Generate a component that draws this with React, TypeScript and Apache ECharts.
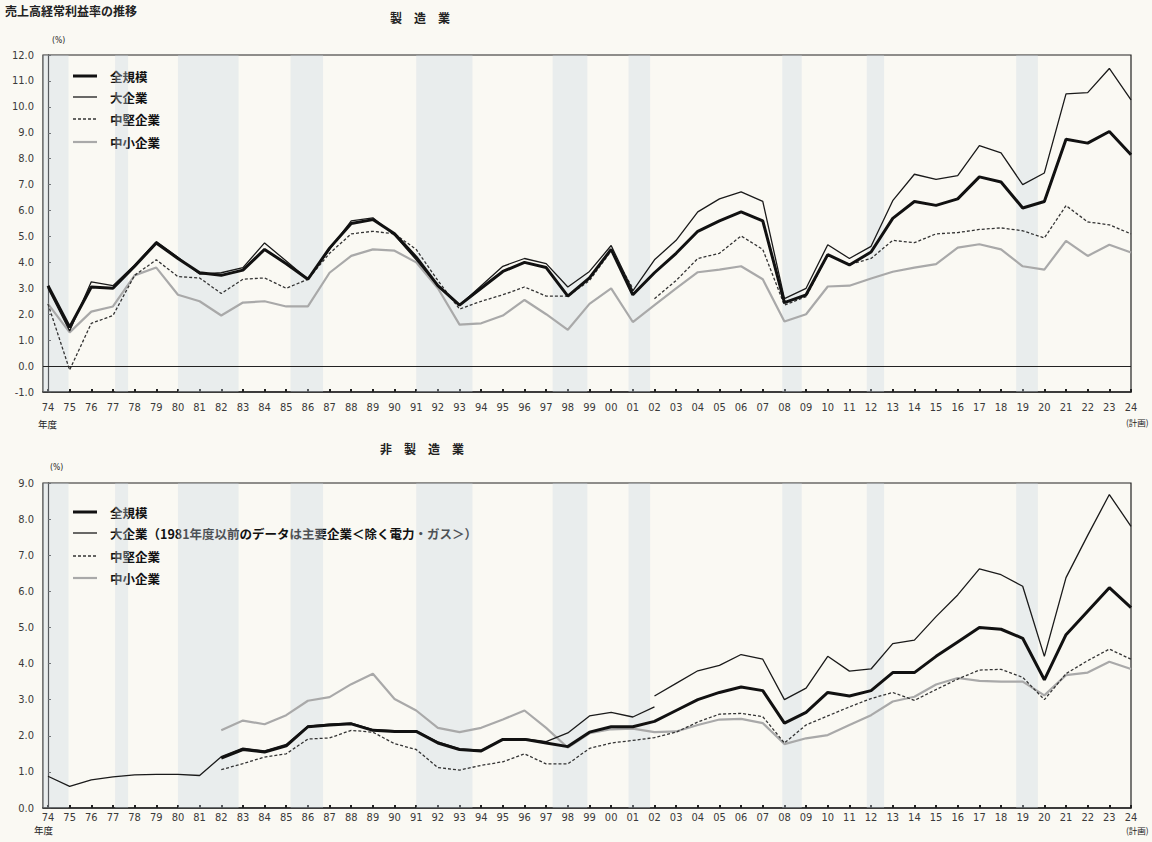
import React, { useEffect, useRef } from 'react';
import * as echarts from 'echarts';

// Fiscal years 1974 .. 2024 (index 0 .. 50)
const yearLabels = [
  '74','75','76','77','78','79','80','81','82','83','84','85','86','87','88','89','90',
  '91','92','93','94','95','96','97','98','99','00','01','02','03','04','05','06','07',
  '08','09','10','11','12','13','14','15','16','17','18','19','20','21','22','23','24',
];

// ---- 製造業 (1974-2024) ----
const mfgAll = [3.1,1.5,3.05,3.0,3.85,4.75,4.15,3.6,3.5,3.7, 4.5,3.95,3.35,4.55,5.5,5.65,5.1,4.2,3.1,2.35, 3.0,3.65,4.0,3.8,2.7,3.4,4.5,2.75,3.6,4.35, 5.2,5.6,5.95,5.6,2.45,2.75,4.3,3.9,4.4,5.7, 6.35,6.2,6.45,7.3,7.1,6.1,6.35,8.75,8.6,9.05, 8.15];
const mfgLarge = [3.0,1.35,3.25,3.1,3.9,4.8,4.2,3.55,3.6,3.8, 4.75,4.05,3.35,4.5,5.6,5.72,5.05,4.1,3.1,2.35, 3.1,3.85,4.15,3.95,3.05,3.65,4.65,2.9,4.1,4.85, 5.95,6.45,6.72,6.35,2.6,3.0,4.68,4.15,4.62,6.38, 7.4,7.2,7.35,8.5,8.22,7.0,7.45,10.5,10.55,11.48, 10.27];
// 中堅企業: 1974-2001 and 2002-2024 (series break)
const mfgMidOld = [2.4,-0.15,1.65,1.95,3.5,4.1,3.45,3.4,2.8,3.35, 3.4,3.0,3.35,4.35,5.1,5.2,5.1,4.5,3.3,2.2, 2.5,2.75,3.05,2.7,2.7,3.3,4.45,3.0];
const mfgMidNew = [2.6,3.3,4.15,4.35,5.02,4.5,2.35,2.68,4.28,3.92, 4.15,4.85,4.76,5.1,5.15,5.27,5.33,5.22,4.94,6.19, 5.56,5.45,5.1];
const mfgSmall = [2.4,1.3,2.1,2.3,3.5,3.8,2.75,2.5,1.95,2.45, 2.5,2.3,2.3,3.6,4.25,4.5,4.45,4.0,3.0,1.6, 1.65,1.95,2.55,2.0,1.4,2.4,3.0,1.7,2.35,3.0, 3.62,3.72,3.85,3.35,1.72,2.0,3.07,3.1,3.38,3.64, 3.8,3.93,4.57,4.7,4.5,3.85,3.72,4.83,4.25,4.68, 4.38];

// ---- 非製造業 ----
// 全規模 1982-2024
const nonAll = [1.38,1.62,1.55,1.72,2.25,2.3,2.33,2.15,2.12,2.12, 1.8,1.62,1.58,1.9,1.9,1.8,1.7,2.1,2.25,2.25, 2.4,2.7,3.0,3.2,3.35,3.25,2.35,2.65,3.2,3.1, 3.25,3.75,3.75,4.2,4.6,5.0,4.95,4.7,3.55,4.8, 5.45,6.1,5.55];
// 大企業 1974-2002 (主要企業 before 1982) and 2002-2024
const nonLargeOld = [0.88,0.6,0.78,0.86,0.92,0.93,0.93,0.9, 1.42,1.66,1.58,1.76,2.27,2.32,2.35,2.17,2.14,2.14, 1.83,1.64,1.6,1.9,1.92,1.84,2.08,2.55,2.65,2.52, 2.8];
const nonLargeNew = [3.1,3.45,3.8,3.95,4.25,4.12,3.0,3.32,4.2,3.79, 3.85,4.55,4.65,5.3,5.9,6.62,6.46,6.14,4.2,6.38, 7.55,8.68,7.8];
// 中堅企業 1982-2024
const nonMid = [1.06,1.23,1.41,1.5,1.91,1.94,2.15,2.1,1.78,1.62, 1.12,1.05,1.18,1.28,1.5,1.22,1.22,1.65,1.8,1.87, 1.95,2.1,2.38,2.6,2.62,2.53,1.8,2.3,2.55,2.8, 3.03,3.2,2.98,3.28,3.57,3.82,3.84,3.62,3.0,3.72, 4.08,4.4,4.12];
// 中小企業 1982-2024
const nonSmall = [2.15,2.42,2.32,2.57,2.97,3.07,3.43,3.72,3.02,2.7, 2.22,2.1,2.22,2.45,2.7,2.22,1.67,2.07,2.18,2.2, 2.1,2.12,2.3,2.45,2.47,2.35,1.77,1.93,2.02,2.3, 2.57,2.95,3.08,3.42,3.6,3.52,3.5,3.5,3.12,3.68, 3.75,4.05,3.85];

// Shaded periods (fiscal-year coordinates)
const recessionBands = [
  [1973.77, 1974.95], [1977.1, 1977.7], [1980.0, 1982.8], [1985.2, 1986.7],
  [1991.0, 1993.6], [1997.3, 1998.9], [2000.8, 2001.8], [2007.9, 2008.8],
  [2011.8, 2012.6], [2018.7, 2019.7],
];

const legendTop = ['全規模', '大企業', '中堅企業', '中小企業'];
const legendBottom = ['全規模', '大企業（1981年度以前のデータは主要企業＜除く電力・ガス＞）', '中堅企業', '中小企業'];

const NUM_FONT = "'Liberation Sans Narrow','DejaVu Sans Condensed','Roboto Condensed',Roboto,sans-serif";
const JP_FONT = "'Noto Sans CJK JP','Noto Sans',sans-serif";

const seg = (vals: number[], startYear: number) => vals.map((v, i) => [startYear - 1974 + i, v]);

const styles: any[] = [
  { color: '#111', width: 3, type: 'solid' },        // 全規模
  { color: '#1a1a1a', width: 1.3, type: 'solid' },   // 大企業
  { color: '#333', width: 1.3, type: [3, 2] },       // 中堅企業
  { color: '#a9a9a9', width: 2.2, type: 'solid' },   // 中小企業
];

function lineSeries(name: string, data: any[], st: any, axis: number, z: number) {
  return {
    type: 'line', name, data, xAxisIndex: axis, yAxisIndex: axis,
    symbol: 'none', showSymbol: false, z, silent: true,
    lineStyle: { color: st.color, width: st.width, type: st.type },
    itemStyle: { color: st.color },
    connectNulls: false,
  };
}

export default function App() {
  const ref = useRef<HTMLDivElement>(null);
  useEffect(() => {
    if (!ref.current) return;
    const chart = echarts.init(ref.current, null, { renderer: 'svg' });
    const ticks = yearLabels.map((_, i) => i);
    const bandData = recessionBands.map(([a, b]) => [{ xAxis: a - 1974 }, { xAxis: b - 1974 }]);

    const xAxisCfg = (gi: number, margin: number) => ({
      type: 'value', gridIndex: gi, min: -0.23, max: 50,
      axisLine: { show: true, onZero: false, lineStyle: { color: '#222', width: 1.6 } },
      axisTick: { show: true, inside: true, length: 3, customValues: ticks, lineStyle: { color: '#222', width: 2 } },
      axisLabel: {
        customValues: ticks, margin, fontSize: 11, color: '#3a3a3a', fontFamily: NUM_FONT,
        formatter: (v: number) => yearLabels[Math.round(v)] ?? '',
      },
      splitLine: { show: false },
    });
    const yAxisCfg = (gi: number, min: number, max: number) => ({
      type: 'value', gridIndex: gi, min, max, interval: 1,
      axisLine: { show: true, lineStyle: { color: '#222', width: 1.2 } },
      axisTick: { show: true, inside: true, length: 3, lineStyle: { color: '#444' } },
      axisLabel: { margin: 9, fontSize: 11, color: '#3a3a3a', fontFamily: NUM_FONT, formatter: (v: number) => v.toFixed(1) },
      splitLine: { show: false },
    });

    const text = (t: string, x: number, y: number, size: number, opts: any = {}) => ({
      type: 'text', x, y, silent: true,
      style: { text: t, fontSize: size, fill: '#222', fontFamily: JP_FONT, textAlign: 'left', textVerticalAlign: 'middle', ...opts },
    });

    const legendGraphic = (names: string[], rows: number[]) => names.flatMap((n, i) => [
      {
        type: 'line', silent: true,
        shape: { x1: 73, y1: rows[i], x2: 97, y2: rows[i] },
        style: {
          stroke: styles[i].color, lineWidth: styles[i].width,
          lineDash: Array.isArray(styles[i].type) ? styles[i].type : null,
        },
      },
      text(n, 110, rows[i], 12.5, { fontWeight: 'bold', fill: '#111' }),
    ]);

    chart.setOption({
      animation: false,
      backgroundColor: '#faf9f3',
      grid: [
        { left: 43, top: 55, width: 1088, height: 337, show: true, borderColor: '#222', borderWidth: 1.2, backgroundColor: 'transparent' },
        { left: 43, top: 483, width: 1088, height: 325, show: true, borderColor: '#222', borderWidth: 1.2, backgroundColor: 'transparent' },
      ],
      xAxis: [xAxisCfg(0, 10), xAxisCfg(1, 4)],
      yAxis: [yAxisCfg(0, -1, 12), yAxisCfg(1, 0, 9)],
      series: [
        // shaded bands & zero line
        { type: 'line', xAxisIndex: 0, yAxisIndex: 0, data: [], z: 1, silent: true,
          markArea: { silent: true, itemStyle: { color: 'rgba(200,212,226,0.33)' }, data: bandData },
          markLine: { silent: true, symbol: ['none', 'none'], label: { show: false },
            lineStyle: { color: '#222', type: 'solid', width: 1.2 }, data: [{ yAxis: 0 }] } },
        { type: 'line', xAxisIndex: 1, yAxisIndex: 1, data: [], z: 1, silent: true,
          markArea: { silent: true, itemStyle: { color: 'rgba(200,212,226,0.33)' }, data: bandData } },
        // 製造業
        lineSeries('中小企業', seg(mfgSmall, 1974), styles[3], 0, 2),
        lineSeries('中堅企業', seg(mfgMidOld, 1974), styles[2], 0, 3),
        lineSeries('中堅企業', seg(mfgMidNew, 2002), styles[2], 0, 3),
        lineSeries('大企業', seg(mfgLarge, 1974), styles[1], 0, 4),
        lineSeries('全規模', seg(mfgAll, 1974), styles[0], 0, 5),
        // 非製造業
        lineSeries('中小企業', seg(nonSmall, 1982), styles[3], 1, 2),
        lineSeries('中堅企業', seg(nonMid, 1982), styles[2], 1, 3),
        lineSeries(legendBottom[1], seg(nonLargeOld, 1974), styles[1], 1, 4),
        lineSeries(legendBottom[1], seg(nonLargeNew, 2002), styles[1], 1, 4),
        lineSeries('全規模', seg(nonAll, 1982), styles[0], 1, 5),
      ],
      graphic: [
        text('売上高経常利益率の推移', 5, 10, 12, { fontWeight: 'bold' }),
        text('製　造　業', 420, 17, 12, { fontWeight: 'bold', textAlign: 'center' }),
        text('非　製　造　業', 422, 448, 12, { fontWeight: 'bold', textAlign: 'center' }),
        text('(%)', 52, 40, 8.5, { fontFamily: NUM_FONT }),
        text('(%)', 50, 467, 8.5, { fontFamily: NUM_FONT }),
        text('年度', 38, 424, 9.5),
        text('年度', 34, 830, 9.5),
        text('(計画)', 1126, 422, 8.5),
        text('(計画)', 1126, 830, 8.5),
        ...legendGraphic(legendTop, [76, 97, 119, 142]),
        ...legendGraphic(legendBottom, [512, 533, 556, 578]),
      ],
    });
    return () => chart.dispose();
  }, []);
  return <div ref={ref} style={{ position: 'absolute', left: 0, top: 0, width: 1152, height: 842 }} />;
}
